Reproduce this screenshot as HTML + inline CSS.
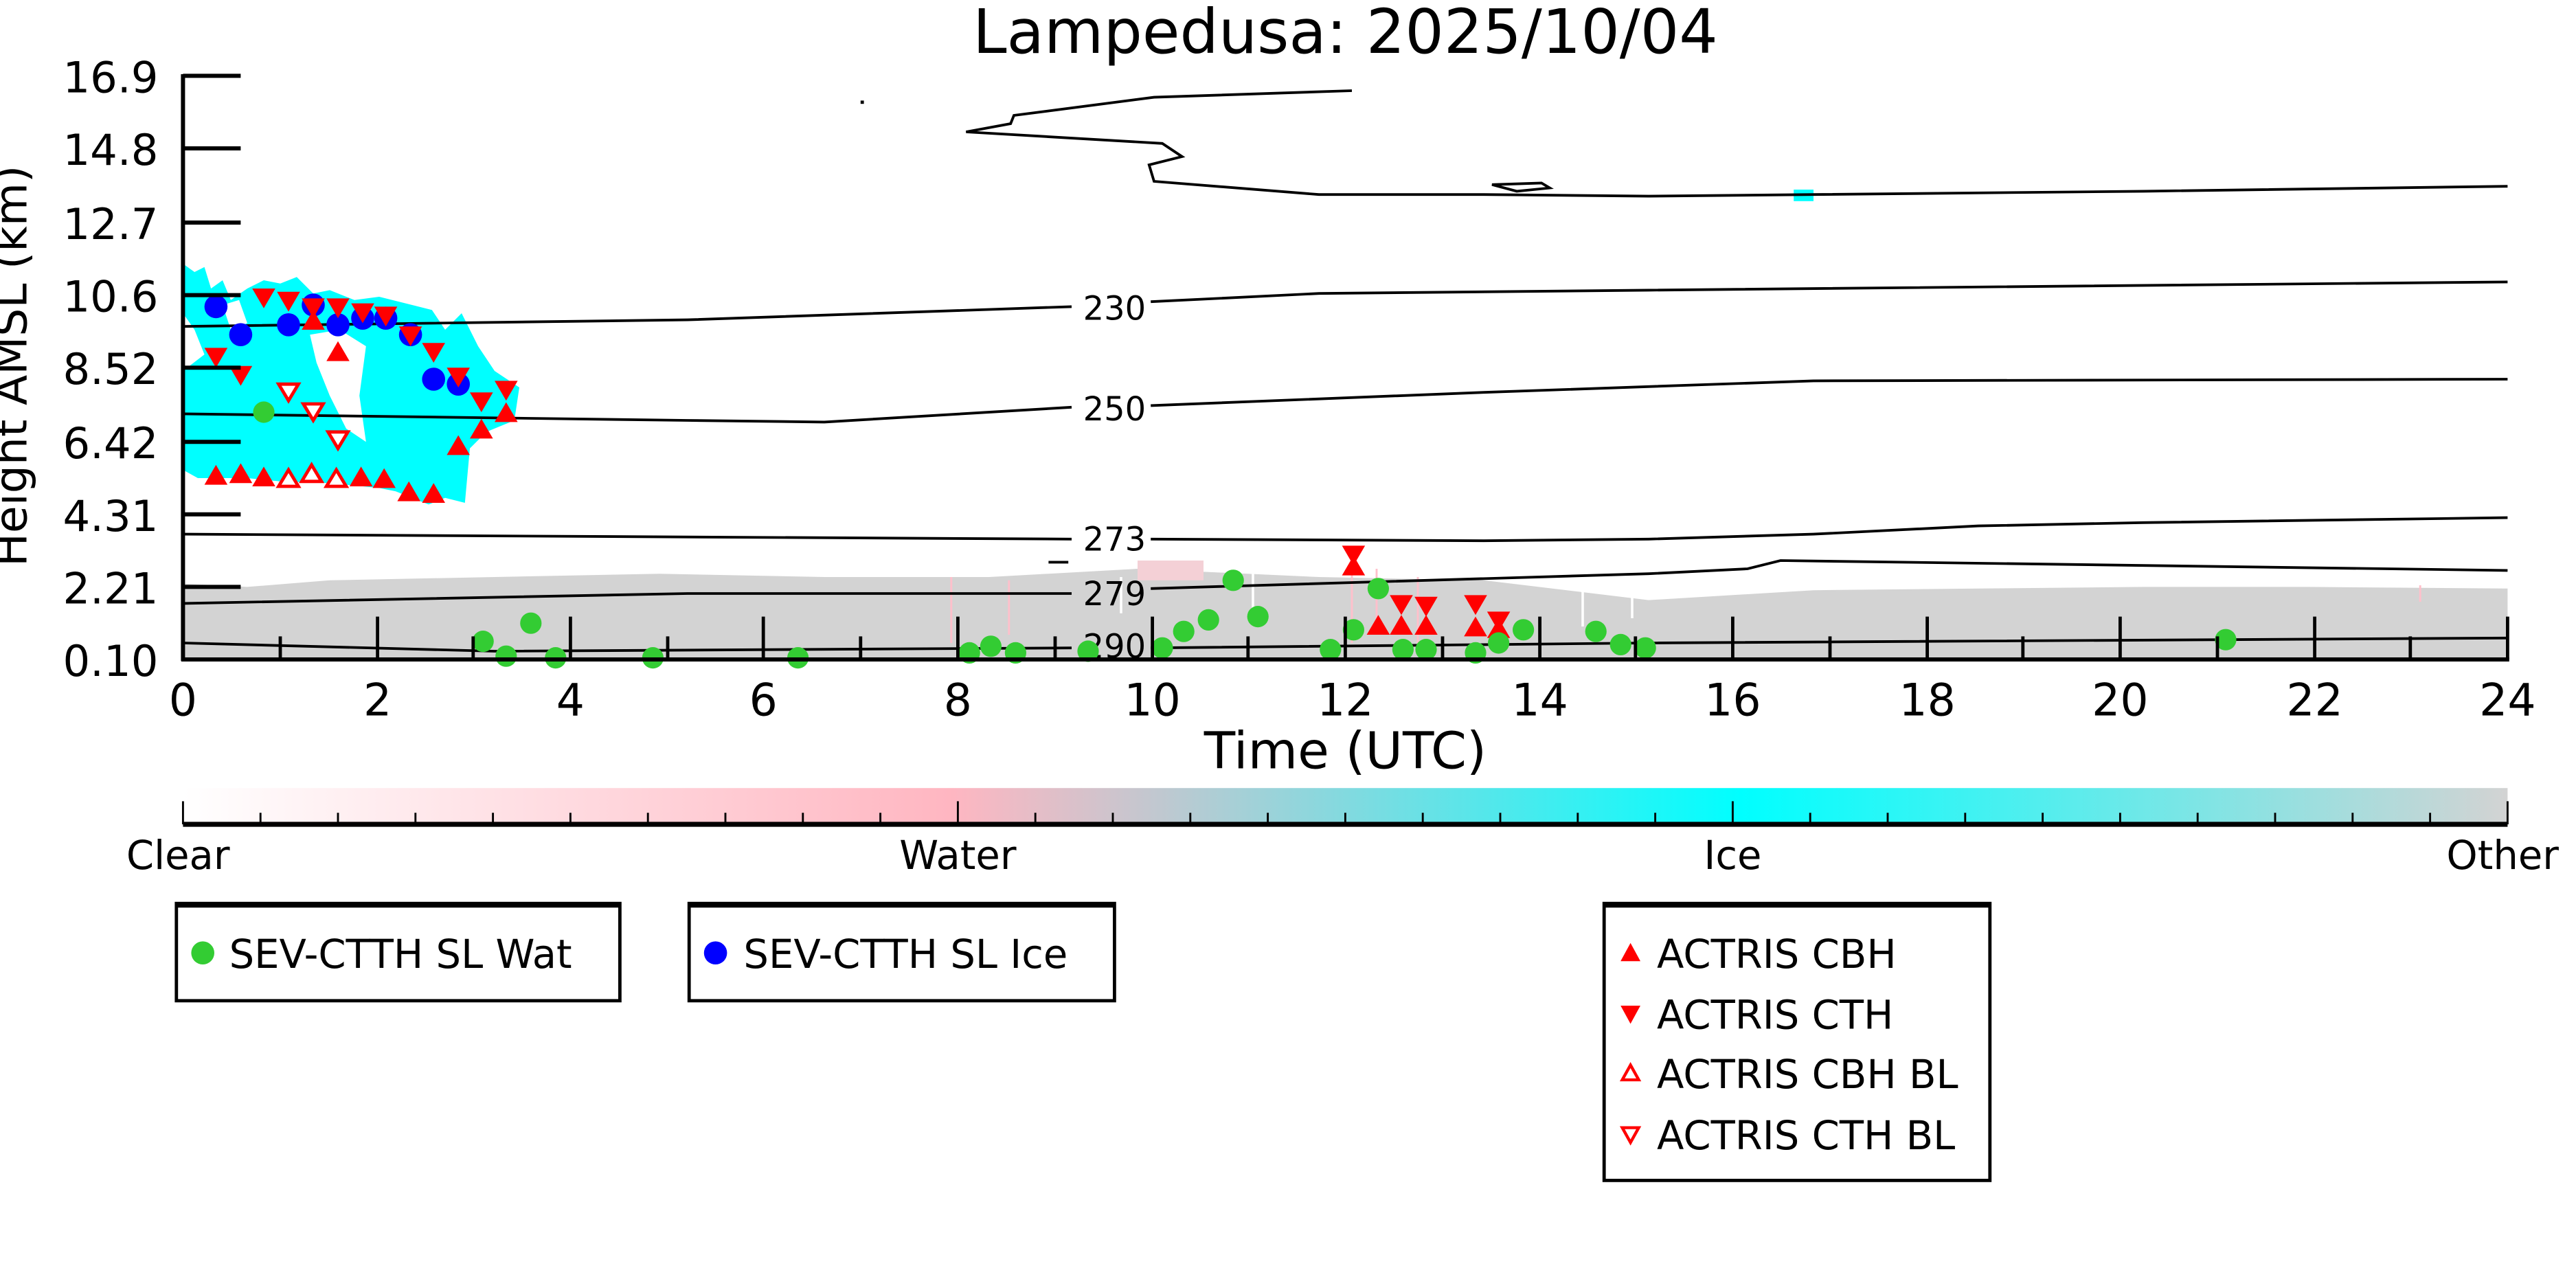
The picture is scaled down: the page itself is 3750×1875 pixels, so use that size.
<!DOCTYPE html>
<html><head><meta charset="utf-8"><style>html,body{margin:0;padding:0;background:#fff}svg{display:block}text{font-family:"DejaVu Sans","Liberation Sans",sans-serif}</style></head>
<body>
<svg width="3750" height="1875" viewBox="0 0 1562.5 781.25" xmlns="http://www.w3.org/2000/svg">
<defs>
<linearGradient id="cb" x1="0" x2="1" y1="0" y2="0">
<stop offset="0" stop-color="#ffffff"/><stop offset="0.33" stop-color="#ffb6c1"/><stop offset="0.42" stop-color="#c0c8d0"/><stop offset="0.67" stop-color="#00ffff"/><stop offset="1" stop-color="#d3d3d3"/>
</linearGradient>
</defs>
<text x="816" y="32" font-size="37" text-anchor="middle">Lampedusa: 2025/10/04</text>
<!-- gray band -->
<polygon fill="#d3d3d3" points="111,354 150,356 200,352 300,350 400,348 500,350 600,350 690,345 800,350 900,352 1000,364 1100,358 1200,357 1300,356 1400,356 1521,357 1521,400 111,400"/>
<rect x="690" y="340" width="40" height="12" fill="#f4d0d6"/>
<g stroke="#ffc0cb" stroke-width="1.2"><line x1="577" y1="350" x2="577" y2="390"/><line x1="612" y1="352" x2="612" y2="385"/><line x1="820" y1="345" x2="820" y2="390"/><line x1="835" y1="345" x2="835" y2="385"/><line x1="860" y1="350" x2="860" y2="390"/><line x1="1468" y1="355" x2="1468" y2="365"/></g>
<g stroke="#fff" stroke-width="1.5"><line x1="990" y1="345" x2="990" y2="375"/><line x1="960" y1="350" x2="960" y2="380"/><line x1="760" y1="345" x2="760" y2="372"/><line x1="680" y1="350" x2="680" y2="372"/></g>
<!-- cyan blob -->
<polygon fill="#00ffff" points="111,160 118,165 124,162 128,175 135,170 140,182 150,175 160,170 170,172 180,168 190,178 200,176 215,182 230,180 250,185 262,188 270,200 280,190 290,210 300,225 315,235 312,255 295,262 285,272 282,305 270,302 260,306 240,298 230,296 200,293 170,292 150,290 120,290 111,285"/>
<polygon fill="#fff" points="188,203 206,200 222,210 218,240 222,268 210,260 200,240 192,220"/>
<polygon fill="#fff" points="111,190 118,200 124,215 111,225"/>
<polygon fill="#fff" points="135,185 145,182 150,196 140,200"/>
<rect x="1088" y="115" width="12" height="7" fill="#00ffff"/>
<!-- contours -->
<g fill="none" stroke="#000" stroke-width="1.6">
<polyline points="820,55 700,59 615,70 613,75 586,80 705,87 717,95 697,100 700,110 800,118 900,118 1000,119 1100,118 1300,116 1521,113"/>
<polygon points="905,112 935,111 940,114 920,116"/>
<polyline points="111,198 417,194 650,186"/><polyline points="698,183 800,178 1000,176 1521,171"/>
<polyline points="111,251 417,255 500,256 650,247"/><polyline points="698,246 900,238 1100,231 1521,230"/>
<polyline points="111,324 650,327"/><polyline points="698,327 900,328 1000,327 1100,324 1200,319 1300,317 1521,314"/>
<polyline points="111,366 417,360 650,360"/><polyline points="698,357 1000,348 1060,345 1080,340 1521,346"/>
<polyline points="111,390 300,395 650,393"/><polyline points="698,393 1000,390 1521,387"/>
<line x1="636" y1="341" x2="648" y2="341"/>
</g>
<g font-size="20" text-anchor="middle"><text x="676" y="194">230</text><text x="676" y="255">250</text><text x="676" y="334">273</text><text x="676" y="367">279</text><text x="676" y="399">290</text></g>
<!-- markers -->
<g fill="#0000ff"><circle cx="131" cy="186" r="7"/><circle cx="146" cy="203" r="7"/><circle cx="175" cy="197" r="7"/><circle cx="190" cy="185" r="7"/><circle cx="205" cy="197" r="7"/><circle cx="220" cy="193" r="7"/><circle cx="234" cy="193" r="7"/><circle cx="249" cy="203" r="7"/><circle cx="263" cy="230" r="7"/><circle cx="278" cy="233" r="7"/></g>
<g fill="#ff0000">
<path d="M-7,-5 L7,-5 L0,7 Z" transform="translate(131,216)"/>
<path d="M-7,-5 L7,-5 L0,7 Z" transform="translate(146,227)"/><path d="M-7,-5 L7,-5 L0,7 Z" transform="translate(160,180)"/><path d="M-7,-5 L7,-5 L0,7 Z" transform="translate(175,182)"/><path d="M-7,-5 L7,-5 L0,7 Z" transform="translate(190,186)"/><path d="M-7,-5 L7,-5 L0,7 Z" transform="translate(205,186)"/><path d="M-7,-5 L7,-5 L0,7 Z" transform="translate(220,189)"/><path d="M-7,-5 L7,-5 L0,7 Z" transform="translate(234,191)"/><path d="M-7,-5 L7,-5 L0,7 Z" transform="translate(249,203)"/><path d="M-7,-5 L7,-5 L0,7 Z" transform="translate(263,213)"/><path d="M-7,-5 L7,-5 L0,7 Z" transform="translate(278,228)"/><path d="M-7,-5 L7,-5 L0,7 Z" transform="translate(292,243)"/><path d="M-7,-5 L7,-5 L0,7 Z" transform="translate(307,236)"/>
<path d="M-7,-5 L7,-5 L0,7 Z" transform="translate(821,336)"/><path d="M-7,-5 L7,-5 L0,7 Z" transform="translate(850,366)"/><path d="M-7,-5 L7,-5 L0,7 Z" transform="translate(865,367)"/><path d="M-7,-5 L7,-5 L0,7 Z" transform="translate(895,366)"/><path d="M-7,-5 L7,-5 L0,7 Z" transform="translate(909,376)"/>
<path d="M-7,5 L7,5 L0,-7 Z" transform="translate(131,289)"/><path d="M-7,5 L7,5 L0,-7 Z" transform="translate(146,288)"/><path d="M-7,5 L7,5 L0,-7 Z" transform="translate(160,290)"/><path d="M-7,5 L7,5 L0,-7 Z" transform="translate(219,290)"/><path d="M-7,5 L7,5 L0,-7 Z" transform="translate(233,291)"/><path d="M-7,5 L7,5 L0,-7 Z" transform="translate(248,299)"/><path d="M-7,5 L7,5 L0,-7 Z" transform="translate(263,300)"/><path d="M-7,5 L7,5 L0,-7 Z" transform="translate(205,214)"/><path d="M-7,5 L7,5 L0,-7 Z" transform="translate(190,195)"/><path d="M-7,5 L7,5 L0,-7 Z" transform="translate(278,271)"/><path d="M-7,5 L7,5 L0,-7 Z" transform="translate(292,261)"/><path d="M-7,5 L7,5 L0,-7 Z" transform="translate(307,251)"/>
<path d="M-7,5 L7,5 L0,-7 Z" transform="translate(821,344)"/><path d="M-7,5 L7,5 L0,-7 Z" transform="translate(836,380)"/><path d="M-7,5 L7,5 L0,-7 Z" transform="translate(850,380)"/><path d="M-7,5 L7,5 L0,-7 Z" transform="translate(865,380)"/><path d="M-7,5 L7,5 L0,-7 Z" transform="translate(895,381)"/><path d="M-7,5 L7,5 L0,-7 Z" transform="translate(909,382)"/>
</g>
<g fill="#fff" stroke="#ff0000" stroke-width="2">
<path d="M-6,-4 L6,-4 L0,6 Z" transform="translate(175,237)"/><path d="M-6,-4 L6,-4 L0,6 Z" transform="translate(190,249)"/><path d="M-6,-4 L6,-4 L0,6 Z" transform="translate(205,266)"/>
<path d="M-6,4 L6,4 L0,-6 Z" transform="translate(175,291)"/><path d="M-6,4 L6,4 L0,-6 Z" transform="translate(189,288)"/><path d="M-6,4 L6,4 L0,-6 Z" transform="translate(204,291)"/>
</g>
<g fill="#33cc33"><circle cx="160" cy="250" r="6.5"/><circle cx="293" cy="389" r="6.5"/><circle cx="307" cy="398" r="6.5"/><circle cx="322" cy="378" r="6.5"/><circle cx="337" cy="399" r="6.5"/><circle cx="396" cy="399" r="6.5"/><circle cx="484" cy="399" r="6.5"/><circle cx="588" cy="396" r="6.5"/><circle cx="601" cy="392" r="6.5"/><circle cx="616" cy="396" r="6.5"/><circle cx="660" cy="395" r="6.5"/><circle cx="705" cy="393" r="6.5"/><circle cx="718" cy="383" r="6.5"/><circle cx="733" cy="376" r="6.5"/><circle cx="748" cy="352" r="6.5"/><circle cx="763" cy="374" r="6.5"/><circle cx="807" cy="394" r="6.5"/><circle cx="821" cy="382" r="6.5"/><circle cx="836" cy="357" r="6.5"/><circle cx="851" cy="394" r="6.5"/><circle cx="865" cy="394" r="6.5"/><circle cx="895" cy="396" r="6.5"/><circle cx="909" cy="390" r="6.5"/><circle cx="924" cy="382" r="6.5"/><circle cx="968" cy="383" r="6.5"/><circle cx="983" cy="391" r="6.5"/><circle cx="998" cy="393" r="6.5"/><circle cx="1350" cy="388" r="6.5"/></g>
<!-- axes -->
<g stroke="#000" stroke-width="2.5" fill="none">
<line x1="111" y1="45" x2="111" y2="401"/><line x1="110" y1="400" x2="1522" y2="400"/>
<line x1="111" y1="46" x2="146" y2="46"/><line x1="111" y1="90" x2="146" y2="90"/><line x1="111" y1="135" x2="146" y2="135"/><line x1="111" y1="179" x2="146" y2="179"/><line x1="111" y1="223" x2="146" y2="223"/><line x1="111" y1="268" x2="146" y2="268"/><line x1="111" y1="312" x2="146" y2="312"/><line x1="111" y1="356" x2="146" y2="356"/>
</g>
<g stroke="#000" stroke-width="2">
<line x1="170" y1="400" x2="170" y2="386"/><line x1="229" y1="400" x2="229" y2="374"/><line x1="287" y1="400" x2="287" y2="386"/><line x1="346" y1="400" x2="346" y2="374"/><line x1="405" y1="400" x2="405" y2="386"/><line x1="463" y1="400" x2="463" y2="374"/><line x1="522" y1="400" x2="522" y2="386"/><line x1="581" y1="400" x2="581" y2="374"/><line x1="640" y1="400" x2="640" y2="386"/><line x1="699" y1="400" x2="699" y2="374"/><line x1="757" y1="400" x2="757" y2="386"/><line x1="816" y1="400" x2="816" y2="374"/><line x1="875" y1="400" x2="875" y2="386"/><line x1="934" y1="400" x2="934" y2="374"/><line x1="992" y1="400" x2="992" y2="386"/><line x1="1051" y1="400" x2="1051" y2="374"/><line x1="1110" y1="400" x2="1110" y2="386"/><line x1="1169" y1="400" x2="1169" y2="374"/><line x1="1227" y1="400" x2="1227" y2="386"/><line x1="1286" y1="400" x2="1286" y2="374"/><line x1="1345" y1="400" x2="1345" y2="386"/><line x1="1404" y1="400" x2="1404" y2="374"/><line x1="1462" y1="400" x2="1462" y2="386"/><line x1="1521" y1="400" x2="1521" y2="374"/>
</g>
<g font-size="26" text-anchor="end"><text x="96" y="56">16.9</text><text x="96" y="100">14.8</text><text x="96" y="145">12.7</text><text x="96" y="189">10.6</text><text x="96" y="233">8.52</text><text x="96" y="278">6.42</text><text x="96" y="322">4.31</text><text x="96" y="366">2.21</text><text x="96" y="410">0.10</text></g>
<text transform="translate(16,222) rotate(-90)" font-size="27" text-anchor="middle">Height AMSL (km)</text>
<g font-size="27" text-anchor="middle"><text x="111" y="434">0</text><text x="229" y="434">2</text><text x="346" y="434">4</text><text x="463" y="434">6</text><text x="581" y="434">8</text><text x="699" y="434">10</text><text x="816" y="434">12</text><text x="934" y="434">14</text><text x="1051" y="434">16</text><text x="1169" y="434">18</text><text x="1286" y="434">20</text><text x="1404" y="434">22</text><text x="1521" y="434">24</text></g>
<text x="816" y="466" font-size="31" text-anchor="middle">Time (UTC)</text>
<!-- colorbar -->
<rect x="111" y="478" width="1410" height="22" fill="url(#cb)"/>
<line x1="111" y1="500" x2="1521" y2="500" stroke="#000" stroke-width="3"/>
<g stroke="#000" stroke-width="1.2">
<line x1="111" y1="486" x2="111" y2="500"/><line x1="581" y1="486" x2="581" y2="500"/><line x1="1051" y1="486" x2="1051" y2="500"/><line x1="1521" y1="486" x2="1521" y2="500"/>
<line x1="158" y1="493" x2="158" y2="500"/><line x1="205" y1="493" x2="205" y2="500"/><line x1="252" y1="493" x2="252" y2="500"/><line x1="299" y1="493" x2="299" y2="500"/><line x1="346" y1="493" x2="346" y2="500"/><line x1="393" y1="493" x2="393" y2="500"/><line x1="440" y1="493" x2="440" y2="500"/><line x1="487" y1="493" x2="487" y2="500"/><line x1="534" y1="493" x2="534" y2="500"/><line x1="628" y1="493" x2="628" y2="500"/><line x1="675" y1="493" x2="675" y2="500"/><line x1="722" y1="493" x2="722" y2="500"/><line x1="769" y1="493" x2="769" y2="500"/><line x1="816" y1="493" x2="816" y2="500"/><line x1="863" y1="493" x2="863" y2="500"/><line x1="910" y1="493" x2="910" y2="500"/><line x1="957" y1="493" x2="957" y2="500"/><line x1="1004" y1="493" x2="1004" y2="500"/><line x1="1098" y1="493" x2="1098" y2="500"/><line x1="1145" y1="493" x2="1145" y2="500"/><line x1="1192" y1="493" x2="1192" y2="500"/><line x1="1239" y1="493" x2="1239" y2="500"/><line x1="1286" y1="493" x2="1286" y2="500"/><line x1="1333" y1="493" x2="1333" y2="500"/><line x1="1380" y1="493" x2="1380" y2="500"/><line x1="1427" y1="493" x2="1427" y2="500"/><line x1="1474" y1="493" x2="1474" y2="500"/>
</g>
<g font-size="24" text-anchor="middle"><text x="108" y="527">Clear</text><text x="581" y="527">Water</text><text x="1051" y="527">Ice</text><text x="1518" y="527">Other</text></g>
<!-- legends -->
<g fill="#fff" stroke="#000" stroke-width="2"><rect x="107" y="548" width="269" height="59"/><rect x="418" y="548" width="258" height="59"/><rect x="973" y="548" width="234" height="168"/></g>
<line x1="107" y1="549" x2="376" y2="549" stroke="#000" stroke-width="3"/><line x1="418" y1="549" x2="676" y2="549" stroke="#000" stroke-width="3"/><line x1="973" y1="549" x2="1207" y2="549" stroke="#000" stroke-width="3"/>
<circle cx="123" cy="578" r="7" fill="#33cc33"/><circle cx="434" cy="578" r="7" fill="#0000ff"/>
<path d="M-6,5 L6,5 L0,-6 Z" transform="translate(989,578)" fill="#f00"/>
<path d="M-6,-5 L6,-5 L0,6 Z" transform="translate(989,615)" fill="#f00"/>
<path d="M-5,4 L5,4 L0,-5 Z" transform="translate(989,651)" fill="#fff" stroke="#f00" stroke-width="1.8"/>
<path d="M-5,-4 L5,-4 L0,5 Z" transform="translate(989,688)" fill="#fff" stroke="#f00" stroke-width="1.8"/>
<g font-size="24"><text x="139" y="587">SEV-CTTH SL Wat</text><text x="451" y="587">SEV-CTTH SL Ice</text><text x="1005" y="587">ACTRIS CBH</text><text x="1005" y="624">ACTRIS CTH</text><text x="1005" y="660">ACTRIS CBH BL</text><text x="1005" y="697">ACTRIS CTH BL</text></g>
<rect x="522" y="61" width="2" height="2" fill="#000"/>
</svg>
</body></html>
